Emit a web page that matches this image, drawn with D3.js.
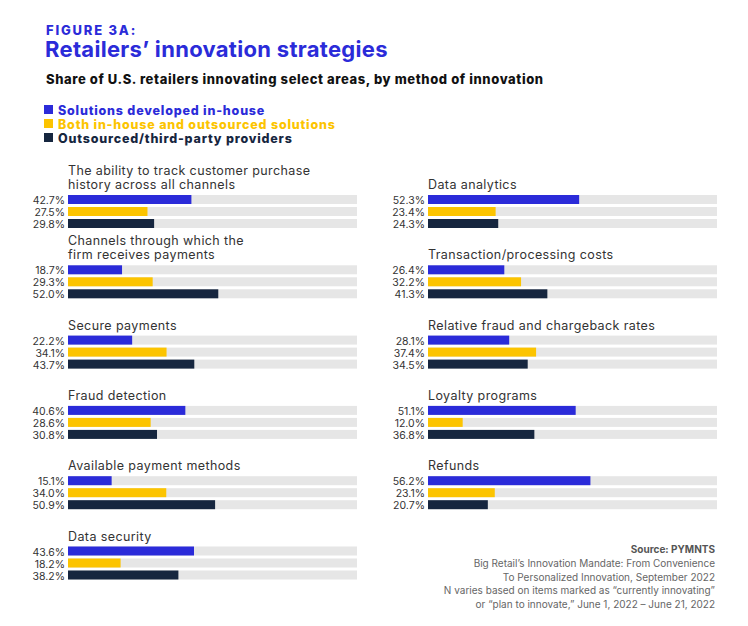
<!DOCTYPE html>
<html><head><meta charset="utf-8">
<script src="https://cdn.jsdelivr.net/npm/d3@7"></script>
<style>body{margin:0;background:#fff;font-family:Inter,"Open Sans",sans-serif;}</style>
</head><body><svg id="chart" width="748" height="626"></svg>
<script>
"use strict";
// Data
const series = ["Solutions developed in-house", "Both in-house and outsourced solutions", "Outsourced/third-party providers"];
const colors = ["#2b2bd9", "#fcc400", "#16263f"];
const leftTitles = [["The ability to track customer purchase", "history across all channels"],
  ["Channels through which the", "firm receives payments"], ["Secure payments"], ["Fraud detection"],
  ["Available payment methods"], ["Data security"]];
const leftValues = [[42.7, 27.5, 29.8], [18.7, 29.3, 52.0], [22.2, 34.1, 43.7], [40.6, 28.6, 30.8], [15.1, 34.0, 50.9], [43.6, 18.2, 38.2]];
const rightTitles = [["Data analytics"], ["Transaction/processing costs"], ["Relative fraud and chargeback rates"],
  ["Loyalty programs"], ["Refunds"]];
const rightValues = [[52.3, 23.4, 24.3], [26.4, 32.2, 41.3], [28.1, 37.4, 34.5], [51.1, 12.0, 36.8], [56.2, 23.1, 20.7]];

const svg = d3.select("#chart");

svg.append("text").attr("x", 46).attr("y", 35).text("FIGURE 3A:")
  .style("font-size", "13px").style("font-weight", 800).style("letter-spacing", "1.8px").attr("fill", "#2b2bd9");
svg.append("text").attr("x", 45).attr("y", 57).text("Retailers’ innovation strategies")
  .style("font-size", "22px").style("font-weight", 700).style("letter-spacing", "0.3px").attr("fill", "#2b2bd9");
svg.append("text").attr("x", 46).attr("y", 84).text("Share of U.S. retailers innovating select areas, by method of innovation")
  .style("font-size", "13px").style("font-weight", 800).style("letter-spacing", "0.6px").attr("fill", "#111");

series.forEach(function(s, i) {
  let y = 110 + i * 14;
  svg.append("rect").attr("x", 44).attr("y", y - 5).attr("width", 9).attr("height", 9).attr("fill", colors[i]);
  svg.append("text").attr("x", 58).attr("y", y + 4.5).text(s)
    .style("font-size", "12.5px").style("font-weight", 800).style("letter-spacing", "0.8px").attr("fill", colors[i]);
});

function panel(titles, values, x0, firstBarY) {
  let x = d3.scaleLinear().domain([0, 100]).range([x0, x0 + 289]);
  let ySeries = d3.scaleBand().domain([0, 1, 2]).range([0, 33]).paddingInner(0.25);
  titles.forEach(function(t, g) {
    let top = firstBarY + g * 70.3;
    let gEl = svg.append("g");
    t.forEach(function(line, k) {
      gEl.append("text").attr("x", x0).attr("y", top - 6 - (t.length - 1 - k) * 14).text(line)
        .style("font-size", "12.5px").style("letter-spacing", "0.4px").attr("fill", "#333");
    });
    values[g].forEach(function(v, i) {
      let y = top + ySeries(i);
      gEl.append("rect").attr("x", x(0)).attr("y", y).attr("width", x(100) - x(0))
        .attr("height", ySeries.bandwidth()).attr("fill", "#e6e6e6");
      gEl.append("rect").attr("x", x(0)).attr("y", y).attr("width", x(v) - x(0))
        .attr("height", ySeries.bandwidth()).attr("fill", colors[i]);
      gEl.append("text").attr("x", x0 - 3).attr("y", y + ySeries.bandwidth()).attr("text-anchor", "end")
        .text(v.toFixed(1) + "%").style("font-size", "10.5px").attr("fill", "#333");
    });
  });
}
panel(leftTitles, leftValues, 68, 195);
panel(rightTitles, rightValues, 428, 195);

const notes = ["Big Retail’s Innovation Mandate: From Convenience", "To Personalized Innovation, September 2022",
  "N varies based on items marked as “currently innovating”", "or “plan to innovate,” June 1, 2022 – June 21, 2022"];
svg.append("text").attr("x", 715).attr("y", 553).attr("text-anchor", "end").text("Source: PYMNTS")
  .style("font-size", "10px").style("font-weight", 700).attr("fill", "#555");
notes.forEach(function(n, i) {
  svg.append("text").attr("x", 715).attr("y", 567 + i * 13.5).attr("text-anchor", "end").text(n)
    .style("font-size", "10px").attr("fill", "#666");
});
</script></body></html>
